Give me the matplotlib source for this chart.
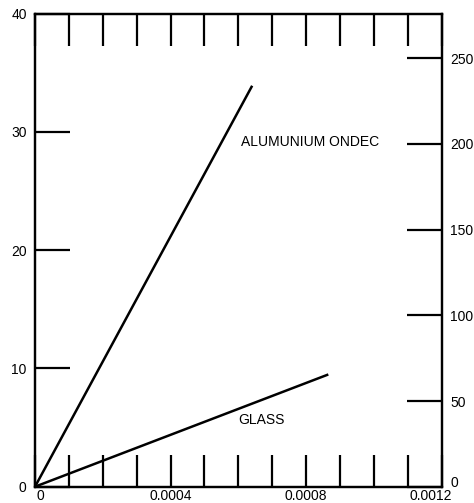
import matplotlib
matplotlib.use("Agg")
import matplotlib.pyplot as plt
import matplotlib.transforms as mtrans

plt.rcParams['font.family'] = ['Liberation Sans', 'DejaVu Sans']

# strain (x) vs stress
alu_strain = [0, 0.000639]
alu_stress = [0, 33.8]
glass_strain = [0, 0.000862]
glass_stress = [0, 9.45]

left_ticks = [0, 10, 20, 30, 40]
right_ticks = [0, 50, 100, 150, 200, 250]
x_major = [0, 0.0004, 0.0008, 0.0012]
x_labels = ['0', '0.0004', '0.0008', '0.0012']
x_minor = [0.0001, 0.0002, 0.0003, 0.0005, 0.0006, 0.0007, 0.0009, 0.0010, 0.0011]

fig = plt.figure(figsize=(4.74, 5.03), dpi=100)
ax = fig.add_axes([35 / 474, 16.3 / 503, 406.7 / 474, 473.2 / 503])

ax.plot(alu_strain, alu_stress, color='black', linewidth=1.8)
ax.plot(glass_strain, glass_stress, color='black', linewidth=1.8)

ax.set_xlim(0, 0.0012)
ax.set_ylim(0, 40)

ax.set_xticks(x_major)
ax.set_xticklabels(x_labels)
ax.set_xticks(x_minor, minor=True)
ax.set_yticks(left_ticks)
ax.set_yticklabels([str(v) for v in left_ticks])

ax.tick_params(axis='x', which='both', direction='in', top=True, length=23, width=1.6,
               labelsize=10, pad=2)
ax.tick_params(axis='y', which='major', direction='in', length=25, width=1.6, labelsize=10, pad=6)

ax2 = ax.twinx()
ax2.set_ylim(0, 250 * 473.2 / 428.4)
ax2.set_yticks(right_ticks)
ax2.set_yticklabels([str(v) for v in right_ticks])
ax2.tick_params(axis='y', direction='in', length=25, width=1.6, labelsize=10, pad=6)

for a in (ax, ax2):
    for s in a.spines.values():
        s.set_linewidth(1.6)

# nudge the corner labels like in the original
def nudge(label, dx, dy):
    label.set_transform(label.get_transform() +
                        mtrans.ScaledTranslation(dx / 100, dy / 100, fig.dpi_scale_trans))

xt = ax.xaxis.get_major_ticks()
nudge(xt[0].label1, 5, 0)
nudge(xt[3].label1, -11, 0)
nudge(ax2.yaxis.get_major_ticks()[0].label2, 0, 5)

ax.text(0.000813, 29.1, 'ALUMUNIUM ONDEC', fontsize=10, ha='center', va='center')
ax.text(0.000668, 5.6, 'GLASS', fontsize=10, ha='center', va='center')

fig.savefig('out.png', dpi=100)
